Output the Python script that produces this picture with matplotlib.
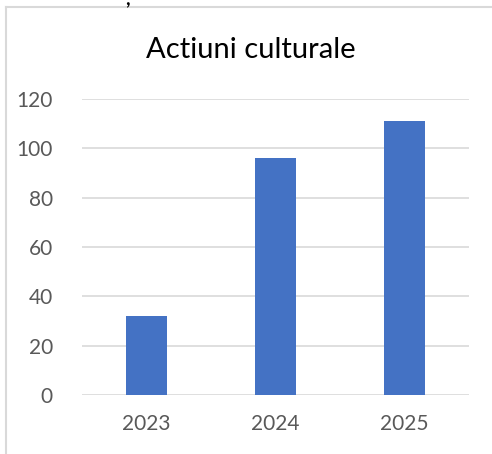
import matplotlib
matplotlib.use("Agg")
import matplotlib.pyplot as plt
from matplotlib.lines import Line2D

#--------------------- Data ---------------------
years = ["2023", "2024", "2025"]
actiuni = [32, 96, 111]
yticks = [0, 20, 40, 60, 80, 100, 120]

W, H = 492, 454
fig = plt.figure(figsize=(W / 100, H / 100), dpi=100)
plt.rcParams['font.family'] = ['Lato', 'DejaVu Sans']

# axes placed in pixel coords of the reference
x0, x1, ytop, ybot = 82, 469, 99, 395
ax = fig.add_axes([x0 / W, 1 - ybot / H, (x1 - x0) / W, (ybot - ytop) / H])

pos = range(len(years))
ax.bar(pos, actiuni, width=0.32, color="#4472C4", zorder=3)
ax.set_xlim(-0.5, len(years) - 0.5)
ax.set_ylim(0, 120)
ax.set_yticks(yticks)
ax.set_xticks(list(pos))
ax.set_xticklabels(years)
ax.grid(axis="y", color="#d9d9d9", linewidth=1.2, zorder=0)
for s in ax.spines.values():
	s.set_visible(False)
ax.tick_params(length=0, labelsize=15, labelcolor="#595959")
ax.tick_params(axis="y", pad=21)
ax.tick_params(axis="x", pad=14)

fig.text(251 / W, 1 - 50 / H, "Actiuni culturale", ha="center", va="center",
	fontsize=21, color="black")

# chart frame (cropped at right and bottom)
fig.add_artist(Line2D([6 / W, 6 / W], [0, 1 - 7 / H], color="#d9d9d9", linewidth=1.5))
fig.add_artist(Line2D([6 / W, 1], [1 - 7 / H, 1 - 7 / H], color="#d9d9d9", linewidth=1.5))
fig.text(127 / W, 1 - 5 / H, ",", ha="center", va="baseline", fontsize=14,
	color="black", fontweight="bold")

fig.savefig("out.png", dpi=100)
